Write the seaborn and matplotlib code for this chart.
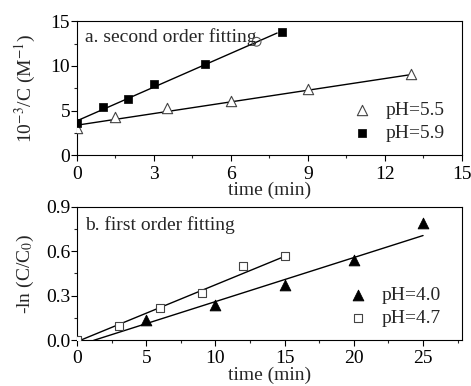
import numpy as np
import pandas as pd
import matplotlib
matplotlib.use("Agg")
import matplotlib.pyplot as plt
from matplotlib.ticker import MultipleLocator, AutoMinorLocator
import seaborn as sns

sns.set_style("ticks")
plt.rcParams['font.family'] = ['Liberation Serif', 'DejaVu Serif']
plt.rcParams['mathtext.fontset'] = 'stix'

# panel a: second order
t_55 = [0, 1.5, 3.5, 6, 9, 13]
c_55 = [3.0, 4.3, 5.3, 6.1, 7.4, 9.1]
t_59 = [0, 1, 2, 3, 5, 8]
c_59 = [3.6, 5.4, 6.3, 8.0, 10.2, 13.8]
t_extra = [7]
c_extra = [12.7]
# fitted lines (slope, intercept, x range)
fit_55 = (0.435, 3.36, 0, 13)
fit_59 = (1.26, 3.85, 0, 7.8)

# panel b: first order
t_40 = [5, 10, 15, 20, 25]
y_40 = [0.14, 0.24, 0.37, 0.54, 0.79]
t_47 = [0, 3, 6, 9, 12, 15]
y_47 = [0.0, 0.095, 0.22, 0.32, 0.50, 0.57]
fit_40 = (0.0296, -0.035, 1.2, 25)
fit_47 = (0.0382, -0.008, 0.2, 15)

fig = plt.figure(figsize=(4.71, 3.86), dpi=100)
ax1 = fig.add_axes([0.1635, 0.598, 0.817, 0.347])
ax2 = fig.add_axes([0.1635, 0.118, 0.817, 0.347])


def fit_line(ax, fit):
    k, b, x0, x1 = fit
    xs = np.array([x0, x1])
    sns.lineplot(x=xs, y=k * xs + b, ax=ax, color='black', lw=1.0, zorder=2)


fit_line(ax1, fit_55)
fit_line(ax1, fit_59)
sns.scatterplot(x=t_55, y=c_55, ax=ax1, marker='^', s=55, facecolor='white',
                edgecolor='#444444', linewidth=0.8, label='pH=5.5', zorder=3)
sns.scatterplot(x=t_59, y=c_59, ax=ax1, marker='s', s=40, color='black',
                edgecolor='black', label='pH=5.9', zorder=3)
sns.scatterplot(x=t_extra, y=c_extra, ax=ax1, marker='o', s=40, facecolor='none',
                edgecolor='#555555', linewidth=0.8, zorder=3)

fit_line(ax2, fit_40)
fit_line(ax2, fit_47)
sns.scatterplot(x=t_40, y=y_40, ax=ax2, marker='^', s=60, color='black',
                edgecolor='black', label='pH=4.0', zorder=3)
sns.scatterplot(x=t_47, y=y_47, ax=ax2, marker='s', s=40, facecolor='white',
                edgecolor='#444444', linewidth=0.8, label='pH=4.7', zorder=3)

ax1.set_xlim(0, 15)
ax1.set_ylim(0, 15)
ax1.xaxis.set_major_locator(MultipleLocator(3))
ax1.yaxis.set_major_locator(MultipleLocator(5))
ax2.set_xlim(0, 27.8)
ax2.set_ylim(0, 0.9)
ax2.xaxis.set_major_locator(MultipleLocator(5))
ax2.yaxis.set_major_locator(MultipleLocator(0.3))
ax2.yaxis.set_major_formatter(matplotlib.ticker.FormatStrFormatter('%.1f'))

for ax in (ax1, ax2):
    ax.xaxis.set_minor_locator(AutoMinorLocator(2))
    ax.yaxis.set_minor_locator(AutoMinorLocator(2))
    ax.tick_params(which='major', direction='out', length=4, width=0.8,
                   labelsize=14, pad=1, colors='black')
    ax.tick_params(axis='x', which='major', pad=4)
    ax.tick_params(which='minor', direction='out', length=2.5, width=0.8)
    for sp in ax.spines.values():
        sp.set_linewidth(0.8)
        sp.set_color('black')
    ax.set_xlabel('time (min)', fontsize=14, labelpad=-1)
    ax.legend(loc='center left', frameon=False, fontsize=14, handletextpad=0.2,
              labelspacing=0.3, borderaxespad=0.0)

ax2.tick_params(axis='x', which='major', pad=3)
ax2.set_xlabel('time (min)', fontsize=14, labelpad=-0.5)
ax1.legend_.set_bbox_to_anchor((0.67, 0.25))
ax2.legend_.set_bbox_to_anchor((0.66, 0.25))
ax1.set_ylabel('10$^{-3}$/C (M$^{-1}$)', fontsize=14, labelpad=9)
ax2.set_ylabel('-ln (C/C$_0$)', fontsize=14, labelpad=7)

ax1.text(0.02, 0.88, 'a. second order fitting', transform=ax1.transAxes,
         fontsize=14, va='center', ha='left')
ax2.text(0.02, 0.86, 'b. first order fitting', transform=ax2.transAxes,
         fontsize=14, va='center', ha='left')

fig.savefig('out.png', dpi=100)
